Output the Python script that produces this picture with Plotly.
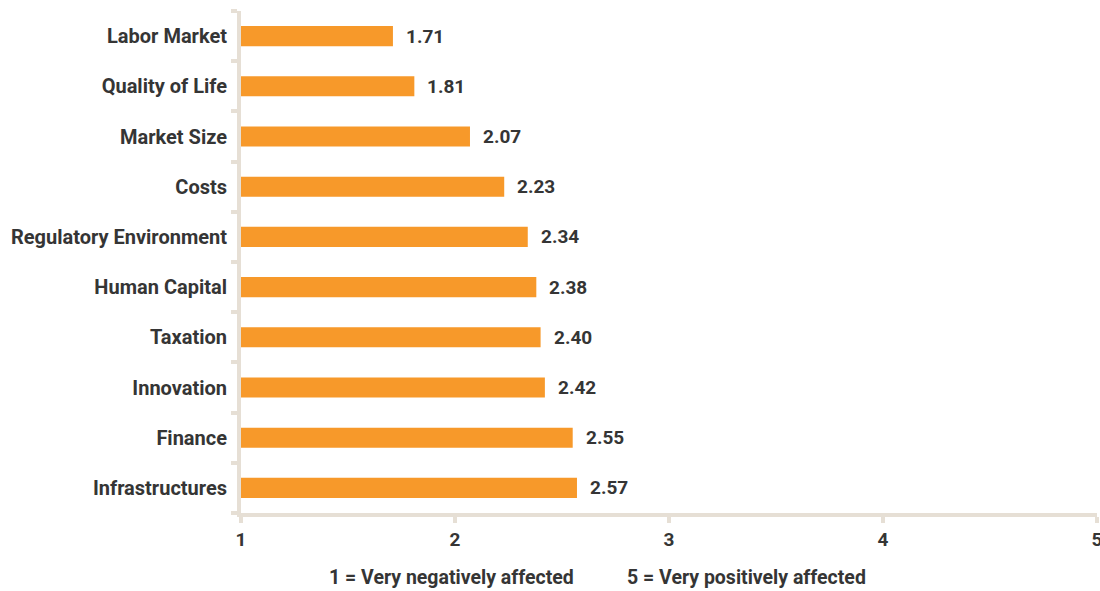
import plotly.graph_objects as go

categories = ["Labor Market", "Quality of Life", "Market Size", "Costs",
              "Regulatory Environment", "Human Capital", "Taxation",
              "Innovation", "Finance", "Infrastructures"]
scores = [1.71, 1.81, 2.07, 2.23, 2.34, 2.38, 2.40, 2.42, 2.55, 2.57]
x_ticks = [1, 2, 3, 4, 5]
scale_notes = ["1 = Very negatively affected", "5 = Very positively affected"]

FONT = "Roboto, sans-serif"
TEXT = "#353535"
AXIS = "#e6dfd5"
BAR = "#f7992a"

# bars start at 1, so x values are offsets from that base
fig = go.Figure(go.Bar(
    x=[v - 1 for v in scores], y=categories, orientation="h",
    base=1, width=0.4,
    marker=dict(color=BAR, line=dict(width=0)),
    hoverinfo="skip",
))

for cat, v in zip(categories, scores):
    fig.add_annotation(x=v, y=cat, text=f"<b>{v:.2f}</b>", showarrow=False,
                       xanchor="left", xshift=11,
                       font=dict(family=FONT, size=19, color=TEXT))

for xpos, note in zip([0.246, 0.59], scale_notes):
    fig.add_annotation(x=xpos, y=0, xref="paper", yref="paper",
                       xanchor="center", yanchor="top",
                       yshift=-51, text=f"<b>{note}</b>", showarrow=False,
                       font=dict(family=FONT, size=19.5, color=TEXT))

fig.update_layout(
    width=1100, height=591,
    margin=dict(l=241, r=3, t=11, b=78),
    plot_bgcolor="white", paper_bgcolor="white",
    showlegend=False,
)
fig.update_xaxes(
    range=[1, 5], tickvals=x_ticks, ticktext=[f"<b>{t}</b>" for t in x_ticks],
    showgrid=False, zeroline=False, automargin=False,
    showline=True, linecolor=AXIS, linewidth=4,
    ticks="outside", ticklen=6, tickwidth=4, tickcolor=AXIS,
    ticklabeloverflow="allow",
    tickfont=dict(family=FONT, size=19, color=TEXT),
)
fig.update_yaxes(
    categoryorder="array", categoryarray=categories, autorange="reversed",
    tickvals=categories, ticktext=[f"<b>{c}</b>" for c in categories],
    showgrid=False, zeroline=False, automargin=False,
    showline=True, linecolor=AXIS, linewidth=4,
    ticks="outside", tickson="boundaries", ticklen=6, tickwidth=4, tickcolor=AXIS,
    ticklabelstandoff=6,
    tickfont=dict(family=FONT, size=20, color=TEXT),
)

fig.write_html("out.html")
